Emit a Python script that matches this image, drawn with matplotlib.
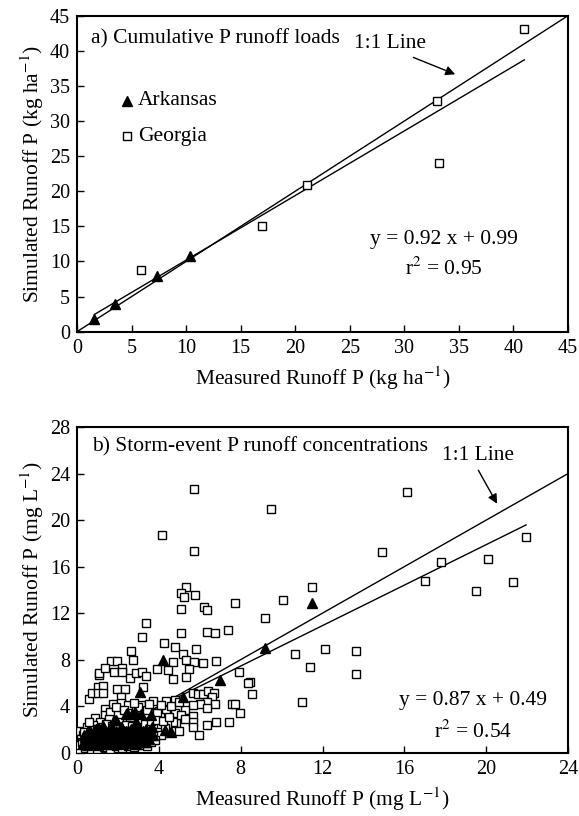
import matplotlib
matplotlib.use("Agg")
import matplotlib.pyplot as plt

plt.rcParams['font.family'] = ['Liberation Serif', 'DejaVu Serif']
plt.rcParams['mathtext.fontset'] = 'stix'

# ---- panel a) cumulative P runoff loads (kg/ha) ----
ark_load_meas = [1.6, 3.5, 7.3, 10.4]
ark_load_sim = [1.8, 4.0, 7.9, 10.8]
ga_load_meas = [5.9, 17.0, 21.1, 33.0, 33.2, 41.0]
ga_load_sim = [8.8, 15.1, 20.9, 32.9, 24.0, 43.1]
load_fit = (0.92, 0.99)
load_ticks = [0, 5, 10, 15, 20, 25, 30, 35, 40, 45]

# ---- panel b) storm-event P runoff concentrations (mg/L) ----
ark_conc_meas = [11.5, 9.2, 7.0, 4.2, 3.1, 5.2,
                 1.8, 2.45, 2.85, 2.95, 3.65, 3.65, 3.6, 2.7, 3.15, 1.9, 2.4, 4.6, 4.3, 3.7, 2.9,
                 0.3, 0.42, 0.5, 0.57, 0.62, 0.7, 0.78, 0.81, 0.86, 0.92, 0.97, 1.02, 1.06, 1.1,
                 1.17, 1.21, 1.26, 1.3, 1.37, 1.41, 1.46, 1.52, 1.55, 1.62, 1.66, 1.71, 1.77,
                 1.8, 1.87, 1.92, 1.96, 2.02, 2.06, 2.12, 2.16, 2.2, 2.27, 2.31, 2.36, 2.41,
                 2.47, 2.52, 2.56, 2.61, 2.66, 2.72, 2.77, 2.82, 2.91, 3.02, 3.1, 3.22, 3.31,
                 3.42, 3.5, 0.48, 1.02, 1.52, 2.04, 2.52, 1.25, 2.85,
                 0.35, 0.66, 0.88, 1.14, 1.33, 1.58, 1.83, 2.09, 2.33, 2.58, 2.86, 3.05, 3.27,
                 0.55, 0.74, 1.08, 1.44, 1.69, 1.98, 2.24, 2.49, 2.74, 2.97, 3.18, 3.38,
                 0.95, 1.6, 2.15, 2.65, 3.45,
                 0.38, 0.52, 0.69, 0.83, 0.99, 1.12, 1.28, 1.43, 1.57, 1.74, 1.89, 2.01,
                 2.18, 2.29, 2.44, 2.59, 2.71, 2.88, 3.01, 3.14, 3.29, 3.4,
                 0.45, 0.63, 0.8, 1.0, 1.19, 1.35, 1.5, 1.67, 1.85, 2.0, 2.14, 2.32,
                 2.5, 2.63, 2.8, 2.99, 3.12, 3.25, 3.36, 3.55]
ark_conc_sim = [12.9, 9.0, 6.25, 8.0, 5.25, 4.75,
                2.8, 3.4, 3.5, 2.5, 2.2, 1.5, 3.2, 3.35, 3.35, 2.85, 3.3, 1.8, 1.95, 1.55, 2.65,
                0.8, 1.1, 1.3, 0.9, 1.5, 1.2, 1.6, 0.95, 1.35, 1.7, 1.1, 1.45, 0.8, 1.8,
                1.25, 1.55, 1.0, 1.9, 1.35, 1.65, 0.95, 1.2, 1.75, 1.45, 1.05, 2.0, 1.3,
                1.6, 0.9, 1.85, 1.2, 1.5, 1.0, 1.75, 1.35, 2.1, 1.1, 1.6, 1.3, 1.9,
                0.95, 1.45, 1.7, 1.2, 2.0, 1.5, 1.05, 1.8, 1.3, 1.6, 1.1, 1.9, 1.4,
                1.7, 1.2, 0.7, 0.7, 0.75, 0.8, 0.85, 2.3, 2.1,
                1.55, 0.75, 1.95, 1.55, 0.85, 1.95, 1.15, 1.25, 0.85, 1.8, 0.75, 1.35, 0.95,
                1.9, 1.35, 2.05, 1.15, 0.75, 1.7, 0.75, 1.9, 1.4, 2.0, 1.6, 0.9,
                2.05, 2.15, 2.2, 1.55, 1.45,
                1.35, 1.75, 1.05, 1.25, 2.0, 1.5, 1.7, 1.4, 1.0, 1.15, 1.45, 1.7,
                1.5, 1.85, 1.15, 1.4, 1.65, 1.5, 1.8, 1.45, 1.25, 1.55,
                1.0, 1.9, 1.3, 1.65, 1.1, 1.85, 1.05, 1.55, 1.25, 1.3, 1.6, 1.0,
                1.25, 1.85, 1.25, 1.05, 1.75, 1.3, 2.0, 1.75]

ga_conc_meas = [16.15, 9.48, 14.92, 17.78, 20.09, 21.95, 17.02, 21.3, 19.5, 11.5, 10.08, 9.18,
                10.68, 12.13, 13.64, 11.37, 13.64, 11.0, 8.45, 8.53,
                5.72, 4.17, 5.72, 5.32, 5.06, 5.22, 5.75, 6.2, 6.33, 5.06, 7.72, 3.37, 3.16,
                5.06, 6.35, 6.74, 7.37, 4.27, 4.77, 5.8, 2.63, 2.72, 5.19, 1.64, 1.97, 4.7,
                5.35, 5.72, 6.17, 6.77, 3.92, 4.46, 5.45, 7.93, 8.38, 4.7, 5.32,
                0.57, 0.75, 1.02, 1.29, 1.02, 1.29, 1.09, 1.09, 1.38, 1.82, 2.18, 2.18, 2.59,
                2.88, 3.2, 3.37, 3.24, 1.97, 2.36, 2.15, 1.77, 2.15, 2.5, 1.38, 1.38, 3.11,
                3.72, 4.37, 4.78, 5.65, 5.9, 6.17, 6.42, 6.7, 6.59, 6.33, 6.0, 6.75, 6.33,
                5.68, 5.27, 5.68, 5.67, 4.8, 4.86, 4.37, 4.05, 3.92, 3.4, 3.72, 3.02, 4.7,
                4.4, 7.56, 7.74, 7.95, 7.43, 6.78, 6.34, 5.94, 5.68,
                0.9, 1.1, 1.6, 1.9, 2.3, 2.6, 2.05, 1.55, 3.4, 3.0, 2.8, 3.5, 4.1, 4.6,
                5.0, 5.1, 5.3, 4.3, 3.9, 5.0,
                0.15, 0.2, 0.1, 0.3, 0.5, 0.8, 0.2, 0.4, 0.7, 1.0, 1.3, 1.6, 1.9, 2.2,
                2.5, 2.8, 3.1, 3.4, 3.6, 1.2, 1.4, 1.7, 2.0, 2.4, 2.7, 3.3, 3.6, 0.6,
                0.35, 1.0, 2.9, 3.9, 4.1, 3.8, 4.2, 4.5, 0.1, 0.25]
ga_conc_sim = [22.4, 20.95, 17.23, 16.42, 16.65, 18.57, 14.79, 14.7, 13.93, 14.25, 13.17, 11.58,
               8.49, 8.94, 8.72, 7.37, 6.79, 4.39, 6.05, 5.02,
               22.65, 18.73, 17.37, 14.27, 13.76, 13.36, 13.59, 12.55, 12.27, 12.33, 12.87, 11.13,
               9.97, 10.27, 10.35, 10.27, 10.55, 9.41, 9.09, 8.92, 8.75, 8.0, 8.45, 7.91, 7.91,
               7.8, 7.95, 7.8, 7.74, 7.86, 7.23, 7.11, 7.23, 6.94, 6.02, 6.3, 6.55,
               4.59, 5.16, 5.68, 5.74, 5.11, 5.16, 6.64, 6.87, 7.26, 6.91, 7.26, 6.91, 6.4,
               6.83, 6.97, 6.6, 5.68, 5.44, 5.5, 4.82, 4.19, 4.25, 4.1, 3.79, 3.27, 4.07,
               4.45, 4.45, 4.53, 5.1, 5.05, 5.05, 5.33, 5.16, 4.82, 4.39, 4.19, 4.19, 3.84,
               4.07, 3.67, 3.15, 2.67, 3.37, 2.53, 3.67, 3.08, 3.39, 2.67, 2.3, 2.24, 2.6,
               2.5, 4.19, 4.19, 3.39, 2.6, 2.67, 2.41, 1.52, 2.24,
               3.0, 2.6, 3.5, 3.9, 3.7, 3.1, 2.6, 2.9, 3.7, 3.9, 4.3, 4.2, 4.1, 4.0,
               4.4, 3.2, 2.9, 2.1, 1.8, 1.9,
               1.9, 0.5, 0.3, 1.5, 2.2, 2.4, 1.2, 0.4, 0.3, 0.35, 0.5, 0.3, 0.55, 0.4,
               0.6, 0.5, 0.7, 0.6, 0.9, 2.2, 2.5, 2.3, 2.2, 2.4, 2.3, 2.5, 2.7, 2.6,
               1.8, 2.0, 2.0, 2.8, 1.5, 1.1, 2.7, 3.1, 0.7, 0.9]
conc_fit = (0.87, 0.49)
conc_ticks = [0, 4, 8, 12, 16, 20, 24, 28]

TICK_FS = 14.5
LABEL_FS = 15.5
TEXT_FS = 15.5


def style_axes(ax, lim_x, lim_y, xt, yt):
    ax.set_xlim(*lim_x)
    ax.set_ylim(*lim_y)
    ax.set_xticks(xt)
    ax.set_yticks(yt)
    ax.tick_params(direction='in', length=5, width=1, labelsize=TICK_FS, pad=5)
    for sp in ax.spines.values():
        sp.set_linewidth(1.5)


fig = plt.figure(figsize=(5.79, 8.16), dpi=100)

# panel a
ax1 = fig.add_axes([0.133, 0.5935, 0.848, 0.3873])
ax1.plot([0, 45], [0, 45], color='black', lw=1)
fx = [min(ark_load_meas + ga_load_meas), max(ark_load_meas + ga_load_meas)]
ax1.plot(fx, [load_fit[0] * v + load_fit[1] for v in fx], color='black', lw=1)
ax1.plot(ga_load_meas, ga_load_sim, 's', ms=6, mfc='white', mec='black', mew=1, zorder=3)
ax1.plot(ark_load_meas, ark_load_sim, '^', ms=7, color='black', zorder=4)
style_axes(ax1, (0, 45), (0, 45), load_ticks, load_ticks)
ax1.set_xlabel('Measured Runoff P (kg ha$^{-1}$)', fontsize=LABEL_FS, labelpad=5)
ax1.set_ylabel('Simulated Runoff P (kg ha$^{-1}$)', fontsize=LABEL_FS, labelpad=3)
ax1.text(1.3, 41.75, 'a) Cumulative P runoff loads', fontsize=TEXT_FS, va='center')
ax1.text(28.7, 41.0, '1:1 Line', fontsize=TEXT_FS, ha='center', va='center')
ax1.annotate('', xy=(34.9, 36.5), xytext=(30.6, 39.2),
             arrowprops=dict(arrowstyle='-|>', color='black', lw=1, mutation_scale=14))
ax1.plot([4.6], [32.9], '^', ms=7, color='black')
ax1.text(5.6, 32.9, 'Arkansas', fontsize=TEXT_FS, va='center')
ax1.plot([4.6], [27.8], 's', ms=6, mfc='white', mec='black', mew=1)
ax1.text(5.6, 27.8, 'Georgia', fontsize=TEXT_FS, va='center')
ax1.text(33.6, 13.15, 'y = 0.92 x + 0.99', fontsize=TEXT_FS, ha='center', va='center')
ax1.text(33.6, 8.9, 'r$^{2}$ = 0.95', fontsize=TEXT_FS, ha='center', va='center')

# panel b
ax2 = fig.add_axes([0.133, 0.0776, 0.848, 0.399])
ax2.plot([0, 24], [0, 24], color='black', lw=1, zorder=2)
gx = [0.1, max(ga_conc_meas)]
ax2.plot(gx, [conc_fit[0] * v + conc_fit[1] for v in gx], color='black', lw=1, zorder=2)
ax2.plot(ga_conc_meas, ga_conc_sim, 's', ms=5.5, mfc='white', mec='black', mew=1, zorder=3)
ax2.plot(ark_conc_meas, ark_conc_sim, '^', ms=7, color='black', zorder=4)
style_axes(ax2, (0, 24), (0, 28), conc_ticks[:-1], conc_ticks)
ax2.set_xlabel('Measured Runoff P (mg L$^{-1}$)', fontsize=LABEL_FS, labelpad=5)
ax2.set_ylabel('Simulated Runoff P (mg L$^{-1}$)', fontsize=LABEL_FS, labelpad=3)
ax2.text(0.75, 26.3, 'b) Storm-event P runoff concentrations', fontsize=TEXT_FS, va='center')
ax2.text(19.6, 25.6, '1:1 Line', fontsize=TEXT_FS, ha='center', va='center')
ax2.annotate('', xy=(20.6, 21.2), xytext=(19.55, 24.5),
             arrowprops=dict(arrowstyle='-|>', color='black', lw=1, mutation_scale=14))
ax2.text(19.35, 4.53, 'y = 0.87 x + 0.49', fontsize=TEXT_FS, ha='center', va='center')
ax2.text(19.35, 1.8, 'r$^{2}$ = 0.54', fontsize=TEXT_FS, ha='center', va='center')

fig.savefig('out.png', dpi=100, facecolor='white')
